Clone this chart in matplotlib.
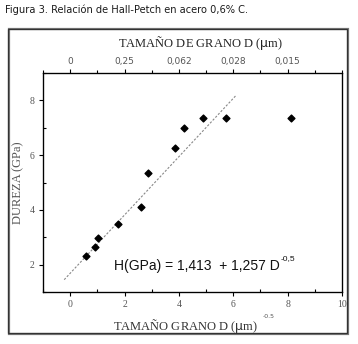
import numpy as np
import matplotlib
matplotlib.use("Agg")
import matplotlib.pyplot as plt
from matplotlib.patches import Rectangle
from matplotlib.ticker import MultipleLocator

# datos
d_inv = [0.59, 0.92, 1.03, 1.76, 2.61, 2.87, 3.86, 4.19, 4.89, 5.74, 8.13]
dureza = [2.33, 2.65, 2.98, 3.49, 4.11, 5.35, 6.25, 6.98, 7.35, 7.35, 7.35]
fit_x = [-0.22, 6.10]
fit_y = [1.45, 8.18]
top_pos = [0, 2, 4, 6, 8]
top_labels = ["0", "0,25", "0,062", "0,028", "0,015"]

serif = "Liberation Serif"
gris = "#555555"


def main():
    fig = plt.figure(figsize=(3.58, 3.44), dpi=100)
    fig.patch.set_facecolor("white")

    # marco exterior con sombra
    W, H = 358.0, 344.0
    fig.patches.append(Rectangle((9 / W, 1 - 334 / H), 339 / W, 305 / H,
                                 transform=fig.transFigure, fill=False,
                                 edgecolor="#777777", lw=1.6))
    fig.patches.append(Rectangle((8 / W, 1 - 333 / H), 339 / W, 304 / H,
                                 transform=fig.transFigure, fill=False,
                                 edgecolor="#333333", lw=0.9))

    fig.text(5 / W, 1 - 10 / H, "Figura 3. Relación de Hall-Petch en acero 0,6% C.",
             fontsize=7.1, family="DejaVu Sans", color="#1a1a1a", va="center")

    ax = fig.add_axes([43 / W, 1 - 292 / H, 299 / W, 219 / H])
    ax.scatter(d_inv, dureza, marker="D", s=12, color="black", zorder=3)
    ax.plot(fit_x, fit_y, color="#888888", ls=(0, (2, 1.5)), lw=0.8)

    ax.set_xlim(-1, 10)
    ax.set_ylim(1, 9)
    ax.xaxis.set_major_locator(MultipleLocator(2))
    ax.xaxis.set_minor_locator(MultipleLocator(1))
    ax.yaxis.set_major_locator(MultipleLocator(2))
    ax.yaxis.set_minor_locator(MultipleLocator(1))
    ax.tick_params(which="major", direction="out", length=3, width=0.8,
                   labelsize=7, labelcolor=gris, pad=3)
    ax.tick_params(which="minor", direction="in", length=2.5, width=0.8)
    for lab in ax.get_xticklabels() + ax.get_yticklabels():
        lab.set_family(serif)
    for sp in ax.spines.values():
        sp.set_linewidth(0.9)

    ax.set_ylabel("DUREZA (GPa)", family=serif, fontsize=9, color=gris)
    ax.yaxis.set_label_coords(-0.064, 0.5)
    ax.set_xlabel(r"TAMAÑO GRANO D ($\mathrm{\mu}$m)", family=serif, fontsize=9,
                  color="#333333")
    ax.xaxis.set_label_coords(0.475, -0.115)
    fig.text(263 / W, 1 - 316 / H, "-0.5", fontsize=4.5, family="DejaVu Sans",
             color=gris, va="center")

    top = ax.twiny()
    top.set_xlim(ax.get_xlim())
    top.set_xticks(top_pos)
    top.set_xticklabels(top_labels)
    top.xaxis.set_minor_locator(MultipleLocator(1))
    top.tick_params(which="major", direction="out", length=3, width=0.8,
                    labelsize=6.5, labelcolor=gris, pad=2)
    top.tick_params(which="minor", direction="out", length=2, width=0.8)
    top.set_xlabel(r"TAMAÑO DE GRANO D ($\mathrm{\mu}$m)", family=serif,
                   fontsize=9, color="#222222")
    top.xaxis.set_label_coords(0.525, 1.12)

    eq = ax.text(1.62, 1.95, "H(GPa) = 1,413  + 1,257 D", family="Liberation Sans",
                 fontsize=10, color="#111111", va="center")
    ax.annotate("-0,5", xy=(1, 1), xycoords=eq, xytext=(0.5, 0),
                textcoords="offset points", family="Liberation Sans",
                fontsize=6, color="#111111", va="center", ha="left")

    fig.savefig("out.png", dpi=100)


if __name__ == "__main__":
    main()
